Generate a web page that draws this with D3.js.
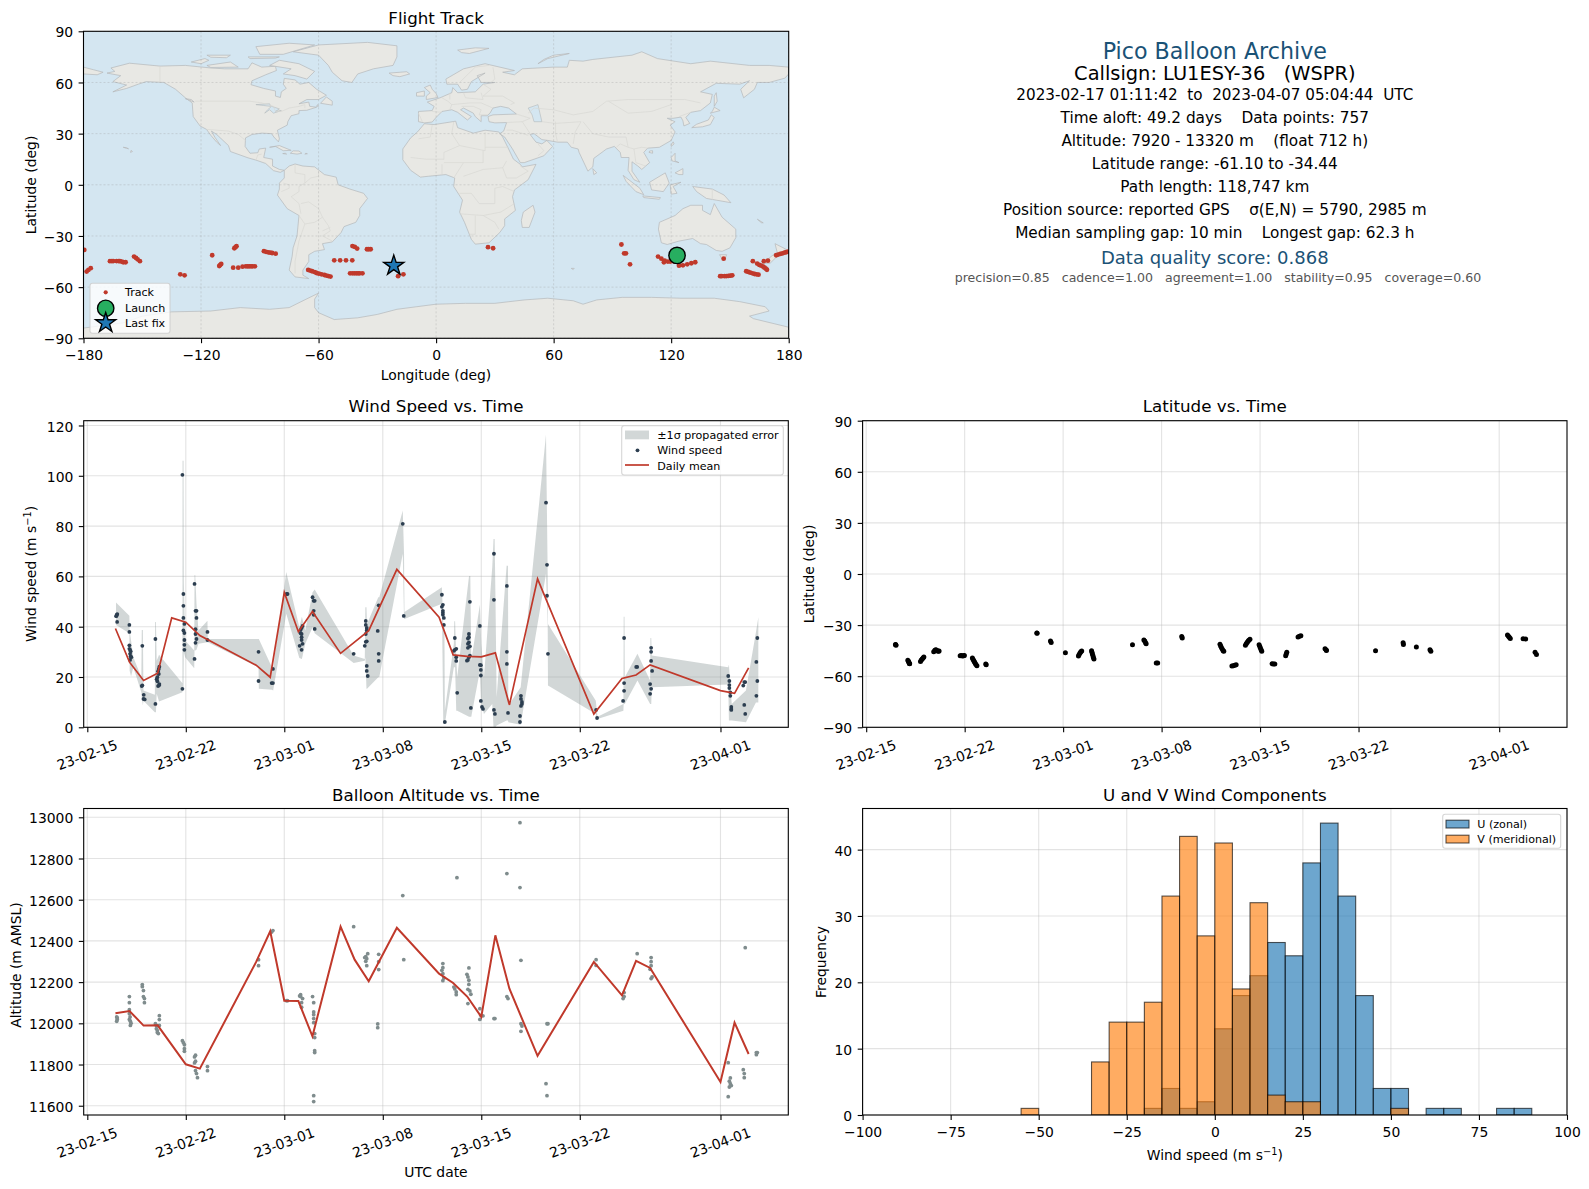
<!DOCTYPE html>
<html>
<head>
<meta charset="utf-8">
<script src="https://cdnjs.cloudflare.com/ajax/libs/d3/7.8.5/d3.min.js"></script>
<style>
  body { margin: 0; background: #fff; }
  text { font-family: "DejaVu Sans", sans-serif; fill: #000; white-space: pre; }
</style>
</head>
<body>
<div id="chart"></div>
<script>
// ---- values ----
const lonTicks = [-180, -120, -60, 0, 60, 120, 180];
const latTicks = [-90, -60, -30, 0, 30, 60, 90];
const dateTicks = ["2023-02-15", "2023-02-22", "2023-03-01", "2023-03-08", "2023-03-15", "2023-03-22", "2023-04-01"];
const windTicks = [0, 20, 40, 60, 80, 100, 120];
const altTicks = [11600, 11800, 12000, 12200, 12400, 12600, 12800, 13000];
const histXTicks = [-100, -75, -50, -25, 0, 25, 50, 75, 100];
const histYTicks = [0, 10, 20, 30, 40];

// coastlines, lon/lat, hand traced
const northAmerica = [[-168,65.5],[-164,66.5],[-166,68.5],[-156.5,71.3],[-141,69.6],[-128,70],[-115,68.5],[-108,68],[-96,68],[-94,71.5],[-89,69],[-82,69.5],[-81.5,67],[-87,64.5],[-94,61],[-94.5,58.7],[-88,56.5],[-82,55],[-82,52],[-79.5,51.2],[-79,54.5],[-76.5,56.5],[-78,59],[-77.5,62.4],[-72,61.5],[-69.5,59],[-65,60],[-61,56],[-56,52.5],[-60,50],[-66,50],[-70,47.5],[-65,48.5],[-64.5,46],[-61,45.5],[-66,43.7],[-70,43.5],[-70,41.7],[-74,40.5],[-75.7,37],[-76,35],[-81,32],[-80,27],[-80.5,25.2],[-82.8,28],[-84,30],[-89,30.3],[-94,29.5],[-97.3,27.5],[-97.5,22.5],[-95,18.5],[-91,18.8],[-90.3,21],[-87,21.5],[-88,16],[-83.5,15],[-83.5,11],[-80,9],[-77.5,8.5],[-79.5,7.3],[-83,8.3],[-87,12.5],[-92,14.5],[-96,15.8],[-105,19.5],[-106,23],[-112,29.5],[-114.7,31.5],[-113,28],[-110,23],[-112,25],[-115,29],[-117.2,32.5],[-120.5,34.5],[-124,40],[-124.5,48],[-128,51],[-133,56],[-139,60],[-148,60.5],[-152,59],[-158,56.5],[-165,54.5],[-158,58.5],[-165,60.5],[-161,64]];
const southAmerica = [[-77.5,8.5],[-75,11],[-72,12.2],[-68,11],[-62,10.5],[-57,6],[-51,4.5],[-50,0],[-44,-2.5],[-37,-5],[-35,-8],[-39,-14],[-39,-18],[-41,-22],[-47,-24.5],[-48.5,-28],[-53,-33.5],[-58,-34.5],[-57,-38],[-62,-39],[-65,-41],[-65,-45],[-68,-50],[-68,-53],[-65,-55],[-72,-54],[-75,-50],[-73.5,-42],[-73,-37],[-71,-30],[-70,-18],[-76,-14],[-81,-6],[-80,-2.5],[-80,1],[-77.5,4]];
const africa = [[-17,14.7],[-17,21],[-13,27.5],[-9.5,31],[-6,35.8],[-1,35.3],[10,37.3],[11,33.5],[19,30.3],[25,32],[32,31],[34,28],[37,21],[39.5,15],[43,12],[44,10.5],[51,12],[47,3],[40,-3],[39,-7],[40.5,-15],[35,-20],[35,-24],[32.5,-28],[27,-34],[20,-34.8],[18,-32],[14.5,-22],[12,-16],[13.5,-9],[9,-1],[9.5,4],[5,6],[-4,5],[-8,4.5],[-13,8.5]];
const eurasia = [[-9,37],[-9,43],[-2,43.5],[-1,46],[-4.5,48.5],[2,51],[8,54],[8.5,57],[11,54],[20,54.5],[24,59],[30,60],[23,60],[21,64],[25,65.5],[18,60.5],[16,56],[13,55.5],[11,59],[5.5,59],[5,62],[14,68],[25,71],[40,67],[34,66],[40,64.5],[44,68],[60,69],[67,69],[68,73],[75,72.5],[80,73.5],[100,76],[105,78],[113,74],[130,71],[140,72.5],[160,70],[170,70],[180,69],[180,65],[178,62.5],[170,60],[164,60],[162.5,56],[157,51],[155.5,56],[160,61],[155,59],[143,59.5],[135,54.5],[141,53],[140,48],[135,43.5],[130,42.5],[127.5,39.5],[129.5,36],[126.5,34.5],[126,37.5],[125,39.7],[121,39],[118,39],[122,37],[119.5,35],[122,31],[120,26],[114,22],[108,21.5],[106,19],[109,13],[105,9],[103,11],[100,13.5],[100,8],[104,1.5],[101,3],[98,8.5],[98.5,16],[94.5,16],[94,19],[91,22.5],[87,21],[80.5,15.5],[80,10.5],[77.5,8],[73,19],[72.5,21],[69,22],[67,25],[62,25],[57,26],[54,26.5],[50,30],[48,29.5],[51,25],[54,24],[56.5,26],[59.5,22.5],[55,17],[45,13],[43,13],[39,21],[35,28],[32.5,30],[34.5,31.5],[36,36.5],[30,36.3],[27,37],[26.5,40],[29,41],[41,41.5],[37,45],[33,46],[29,45],[27.5,42],[26,40.5],[23,40.5],[23,37],[20,40],[19,42],[14,45],[12.5,44],[18,40],[16,38],[11,42.5],[8,44],[3,43],[0,39.5],[-2,36.8],[-6,36.3]];
const chukotka = [[-180,69],[-175,67.5],[-170,66],[-173,64.5],[-180,65]];
const australia = [[114,-22],[122,-18],[126,-14],[130,-12],[136,-12],[136,-15],[140,-17.5],[142,-11],[146,-19],[153,-26],[153,-31],[150,-37],[146,-39],[143,-38.5],[138,-35],[135,-34.5],[131,-31.5],[124,-33],[118,-35],[115,-34],[113.5,-26]];
const antarctica = [[-180,-84],[-160,-81],[-150,-77],[-135,-74.5],[-115,-74],[-100,-72],[-85,-73],[-75,-72],[-68,-68],[-60,-63.5],[-62,-67],[-62,-72],[-60,-75],[-52,-79],[-40,-78],[-30,-76],[-20,-73],[0,-70],[15,-69.5],[30,-69.5],[45,-67.5],[57,-66.5],[70,-68],[75,-70],[82,-67.5],[95,-66],[110,-66],[125,-66.5],[142,-66.5],[155,-68.5],[168,-71.5],[170,-74],[160,-77],[162,-78.5],[180,-83.5],[180,-90],[-180,-90]];
const islands = [
  [[-73,78],[-60,82],[-35,83.5],[-20,81.5],[-20,75],[-22,70],[-32,68],[-40,65],[-43,60],[-48,61],[-53,66],[-55,70],[-60,76]],
  [[-80,73],[-70,71],[-62,66.5],[-66,62],[-72,64],[-78,65],[-74,68],[-85,70]],
  [[-117,70],[-105,72],[-101,69],[-115,68.8]],
  [[-90,76.5],[-78,76.5],[-62,82],[-75,83],[-92,81]],
  [[-125,72],[-118,74],[-116,73],[-120,71]],
  [[-96,75],[-80,75],[-82,74.3],[-95,74]],
  [[-117,76],[-105,76],[-107,74.5],[-115,74.8]],
  [[-59,47.8],[-53,46.7],[-53,49],[-56,51.5]],
  [[-85,22],[-80,23],[-74,20.2],[-78,20],[-82,22.5]],
  [[-74.4,18.5],[-71,18],[-68.5,18.5],[-70,19.8],[-73,19.9]],
  [[-78.3,18.3],[-76.3,18],[-77,18.5]],
  [[-67,18],[-65.7,18.2],[-66.5,18.5]],
  [[-156,19],[-155,19.5],[-155.7,20.2]],
  [[-159.7,22],[-158,21.4],[-157,21.1],[-158,21.7]],
  [[-128,50.5],[-123.5,48.5],[-125,50]],
  [[-5,50],[1,51.2],[0,53.5],[-2,56],[-3,58.5],[-6,57],[-3,54],[-5,52]],
  [[-10,52],[-6,52],[-6,55],[-10,54]],
  [[-24,65.5],[-15,66.3],[-13.5,65],[-18.5,63.4],[-22,64]],
  [[11,79],[20,80.3],[27,80],[17,77],[13,77.5]],
  [[52,71],[57,74],[68,77],[60,76],[55,73.5]],
  [[130.5,33.5],[136,34],[140,35.3],[142,39.5],[140.5,41],[139,38],[133,35.5]],
  [[140,42],[145,43.5],[142,45.5],[141,43]],
  [[142,46],[143.5,49],[143,54],[142,52]],
  [[120,22.5],[121.5,24],[121,25.2],[120,23.5]],
  [[108.7,19],[110.5,18.5],[110.5,20],[109,19.8]],
  [[120,16],[122,18.5],[122,14],[124,13],[120.5,14]],
  [[122,7],[126,9.5],[126,6],[124,6]],
  [[95.5,5.5],[104,-2],[106,-5.8],[102,-4],[97,2]],
  [[105.5,-6.5],[114.5,-7.5],[114,-8.5],[106,-7.5]],
  [[109,1.5],[117,7],[119,1],[116,-4],[110,-3]],
  [[119.5,0],[125,1.5],[121,-1],[123,-5],[120,-5.5]],
  [[131,-1],[141,-2.5],[147,-6],[150.5,-10.5],[143,-9],[138,-8],[133,-4]],
  [[144.7,-41],[148.3,-41],[147.5,-43.5],[146,-43.5]],
  [[173,-34.5],[178.5,-37.7],[175,-41.5],[174,-39]],
  [[172.5,-40.7],[174.3,-41.7],[170.5,-46],[166.5,-46],[170,-43]],
  [[80,9.5],[82,7],[80.5,6]],
  [[49.5,-12],[50.5,-16],[47.5,-25],[44,-25],[43.5,-21],[44.5,-16]],
  [[69,-49],[70.5,-49],[70,-49.7]],
  [[-61,-51.5],[-58,-51.5],[-59,-52.3]],
  [[164,-20.2],[167,-22.3],[166,-22.2]],
  [[-60.5,47],[-61,46],[-60,46]]
];
const lakes = [
  [[47,45],[52,47],[53,42],[54,37],[50,37],[49,41]],
  [[-92,47],[-85,47.5],[-84.5,46],[-88,46.5]],
  [[-87.5,42],[-86,44],[-84,46],[-80,44.5],[-82,43],[-79,43.5],[-83,42],[-85,44]]
];
const borders = [
  [[-141,69.6],[-141,60]],[[-123,49],[-95,49],[-89,48],[-83,46],[-82,43],[-79,43],[-75,45],[-70,46],[-67,47],[-67,45]],
  [[-117.2,32.5],[-106,31.5],[-101,29.5],[-97.3,26]],[[-92,14.5],[-91,17.5],[-89,18]],
  [[-72,12],[-72,7],[-67,6],[-67,1],[-70,-1],[-70,-4],[-74,-7],[-70,-11],[-69,-17]],[[-60,8],[-60,5],[-64,4],[-67,1]],
  [[-78,1],[-75,0],[-75,-2],[-79,-4]],[[-70,-18],[-67,-23],[-70,-33],[-72,-45],[-72,-52]],[[-69,-11],[-65,-10],[-60,-14],[-58,-19],[-55,-24],[-54,-27],[-58,-30],[-53,-33]],[[-67,-23],[-62,-22],[-58,-19]],[[-58,-27],[-54,-25]],
  [[-2,35],[-3,28],[-9,27]],[[9,37],[8,30],[12,23],[25,20],[25,31]],[[25,22],[37,22]],[[-13,16],[-5,15],[4,15],[4,19],[12,23]],[[14,13],[24,13],[24,20]],[[4,13],[14,13]],[[3,6],[3,12]],[[9,4],[14,13]],[[14,5],[24,9],[34,10],[36,14]],[[34,10],[36,4],[41,4],[47,8],[43,11]],[[12,-5],[18,-5],[22,-11],[30,-11],[30,-2],[34,-1],[40,-4]],[[12,-17],[24,-18],[33,-16],[40,-11]],[[20,-18],[20,-29],[17,-29]],[[24,-18],[30,-22],[32,-26]],
  [[-9,42],[-7,37]],[[-2,43],[3,42.5]],[[3,51],[6,49],[8,47],[7,44]],[[7,54],[7,50]],[[14,54],[15,51],[24,50],[23,54]],[[8,47],[17,48],[23,48],[29,45]],[[13,46],[19,46],[23,44],[22,41],[26,41]],[[24,59],[28,56],[24,52],[34,52],[40,48],[38,47]],[[29,69],[30,62],[28,60]],[[12,60],[20,69],[27,70]],
  [[41,41.5],[48,39],[44,37],[36,36.5]],[[44,37],[48,30]],[[36,32],[39,32],[47,29]],[[52,17],[55,20],[52,24]],[[61,37],[61,30],[62,25]],[[54,37],[61,36],[74,37],[71,31],[70,24]],[[47,42],[50,45],[60,44],[70,41],[80,43],[87,49],[98,50],[107,50],[120,50],[127,50],[135,48]],[[75,37],[80,30],[88,28],[97,28],[98,22],[101,21],[105,22],[108,21.5]],[[98,22],[94,24],[92,22]],[[88,49],[98,42],[110,43],[120,47]],[[101,21],[102,13],[107,11]],[[124,40],[130,42.5]],[[141,-2.5],[141,-9]]
];

const trackPoints = [[-179.6,-38.2],[-178.4,-50.9],[-177.5,-49.9],[-176.3,-48.9],[-166.5,-44.8],[-165.5,-44.7],[-164.8,-44.7],[-163.1,-44.7],[-162,-44.7],[-161.4,-44.8],[-160.5,-45],[-159.7,-45.4],[-158.5,-45.4],[-154.2,-42.1],[-153.2,-42.9],[-152.4,-43.7],[-151.2,-44.8],[-130.6,-52.5],[-128.4,-53.1],[-114.3,-41.3],[-110.7,-47.6],[-110.2,-47],[-109.7,-46.4],[-103.6,-48.6],[-101,-48.6],[-98.8,-48],[-97.1,-47.8],[-96.2,-47.8],[-95.4,-47.8],[-94.5,-47.8],[-93.7,-47.8],[-92.5,-47.8],[-103,-37.2],[-102.4,-36.6],[-101.9,-36],[-87.9,-38.9],[-86.8,-39.3],[-85.7,-39.6],[-84.7,-39.8],[-83.7,-40],[-81.9,-40.4],[-65.3,-49.9],[-64.3,-50.3],[-63.3,-50.7],[-62,-51.2],[-61,-51.7],[-59.8,-52.1],[-58.5,-52.5],[-57,-52.9],[-56,-53.2],[-55,-53.5],[-53.9,-53.8],[-52,-44.3],[-49,-44.3],[-46,-44.3],[-42.8,-44.3],[-43.9,-51.9],[-42.7,-51.9],[-41.7,-51.9],[-40.7,-51.9],[-39.8,-51.9],[-39,-51.9],[-37.6,-51.9],[-42.7,-35.9],[-41.5,-36.4],[-40.3,-37.4],[-35.3,-37.8],[-34.4,-37.8],[-33.4,-37.8],[-19.4,-53.6],[-16.7,-52.5],[26.5,-36.6],[29.1,-37.2],[94.6,-35],[96,-40.2],[96.9,-40.2],[99,-46.6],[113.3,-42.1],[115,-43.3],[116.7,-44.5],[116.3,-45.4],[118.3,-45],[119.5,-45],[121,-44.8],[122,-45],[124,-47.4],[126,-47.2],[128.2,-46.6],[130.3,-46],[132.3,-45.4],[146.8,-43.3],[145,-53.6],[145.8,-53.6],[147.3,-53.6],[148.3,-53.5],[149.3,-53.4],[150.3,-53.3],[151.2,-53.1],[158.3,-50.7],[159.4,-51.1],[160.4,-51.5],[161.5,-51.9],[162.6,-52.3],[163.6,-52.5],[164.6,-52.7],[161.7,-44.8],[163.9,-46.2],[165,-47],[166,-47.4],[167,-48],[167.7,-48.6],[168.3,-49.2],[168.9,-49.8],[167.3,-44.8],[169.4,-44.5],[173.6,-41.3],[174.6,-40.9],[175.7,-40.5],[176.8,-40.2],[177.9,-39.8],[178.8,-39.5],[179.6,-39.2]];
const launchPoint = [123, -41.4];
const lastFixPoint = [-21.6, -47.4];

// day offsets from 2023-02-15
const windPoints = [[2.08,44.4],[2.1,44.8],[2.13,45],[2.05,44.2],[2.12,41.9],[2.99,40.7],[2.99,37.9],[2.99,32.6],[2.99,31.2],[3.04,30.8],[3.08,30.2],[3.04,29.2],[3.08,28.2],[3.13,27.9],[3.04,26.8],[3.91,32.4],[3.91,16.7],[3.87,16.4],[4.01,12.9],[3.99,11.3],[4.08,11.1],[4.84,35.1],[4.84,9.3],[5.12,24.1],[5.08,23.2],[5.03,22.3],[4.98,19.9],[4.93,19.1],[5.08,21.2],[4.98,18.3],[5.12,17.2],[5.03,16.4],[5.1,16.7],[6.76,100.4],[6.76,15.3],[6.83,53],[6.83,48.3],[6.83,43.5],[6.9,41.1],[6.83,38.5],[6.9,37.5],[6.9,34.7],[6.9,32.8],[6.9,30.8],[7.62,57],[7.76,46.3],[7.69,46.3],[7.76,43.5],[7.69,39],[7.69,37.1],[7.76,35.1],[7.69,33.6],[7.62,27.2],[8.54,37.9],[8.54,34.7],[12.17,30],[12.17,18.4],[13.1,17.6],[13.19,17.6],[13.19,23.2],[14.16,53],[14.23,53],[16.01,51.7],[16.16,50.3],[16.09,50.3],[16.09,46.3],[16.09,44.7],[16.16,39.1],[15.3,40.3],[15.23,39.5],[15.16,38.7],[15.16,37.4],[15.23,37.1],[15.23,35.8],[15.23,34.7],[15.3,33.2],[15.09,32.4],[15.23,30.8],[18.93,29.2],[19.79,42.3],[19.79,40.7],[19.86,39.5],[19.86,38.5],[19.79,37.1],[19.86,34.2],[19.79,34],[19.72,32.4],[19.86,24.4],[19.86,22.4],[19.93,20.4],[20.71,48.5],[20.64,38.3],[20.71,29.2],[20.71,26.4],[22.42,80.9],[22.49,44.3],[25.2,52.7],[25.27,48.7],[25.2,47.9],[25.27,46.3],[25.27,45.5],[25.27,44.7],[25.34,43.5],[25.34,40.7],[25.41,2.1],[26.12,35.5],[26.22,31.2],[26.12,30.8],[26.05,30.4],[26.22,27.9],[26.22,26.4],[26.29,13.7],[27.12,37.1],[27.12,35.8],[27.05,35.3],[27.12,33.8],[27.05,33.2],[27.19,32.2],[27.05,31.6],[27.19,28.5],[27.12,27.9],[27.05,26.8],[26.98,26.5],[27.19,49.9],[27.26,7.7],[27.9,40.3],[27.9,24.8],[27.97,24.7],[27.97,22.8],[27.97,20.6],[27.97,10.5],[28.05,8.1],[28.12,7.3],[28.9,69],[28.9,50.7],[28.9,6.9],[28.97,5.3],[29.82,56.2],[29.82,30],[29.82,25.2],[29.9,5.7],[30.82,12.5],[30.82,11.3],[30.89,10.1],[30.89,9.3],[30.82,8.5],[30.75,4.5],[30.75,2.1],[32.6,89.3],[32.67,64.6],[32.67,52.3],[32.74,29.2],[36.16,6.9],[36.23,3.7],[38.15,35.5],[38.15,17.6],[38.15,14.5],[38.08,10.5],[39.08,24],[39.01,24],[40.07,31.6],[40.07,30],[40.07,26.4],[40.14,22.4],[40,17.2],[40.07,15.3],[40,13.3],[45.55,20.4],[45.63,18.4],[45.63,16.8],[45.63,15.6],[45.7,13.9],[45.7,12.5],[45.77,8.1],[45.77,7.3],[45.77,6.9],[46.62,16.6],[46.69,18],[46.76,18],[46.69,8.9],[46.76,5.3],[47.62,35.5],[47.55,26],[47.62,18.4],[47.55,12.5]];
// day, +1 sigma, -1 sigma
const bandRows = [[2.04,49.6,40.7],[2.99,44.4,37.4],[3.01,38.5,22.5],[3.11,34.5,20.2],[3.27,27.9,23.9],[3.84,19.9,13.9],[3.87,38.7,12],[3.95,38.7,8.8],[3.99,14.6,10.6],[4.8,12.9,6],[4.82,41.9,6],[4.88,41.9,6],[4.93,26.5,13.3],[5.1,28.8,10.3],[6.76,17.5,13.9],[6.77,106,15.9],[6.84,106,15.9],[6.86,58.4,29.8],[6.95,34.5,27.9],[7.6,30.5,23.5],[7.62,60.6,30.5],[7.67,60.6,30.5],[7.76,49.1,30.8],[7.9,38.5,33.2],[8.54,42.4,33.8],[8.56,35.1,33.8],[12.17,35.1,23.9],[12.19,35.1,15.3],[13.12,23.9,14.9],[13.21,23.9,14.6],[14.14,61.7,45.1],[15.07,39.8,27.6],[15.25,44,27.2],[15.49,38.5,33.2],[16.01,53.7,39.8],[16.16,54.8,37.4],[18.93,28.5,25.6],[19.72,27.2,26.5],[19.76,47.7,27.9],[19.84,47.7,15.3],[19.88,41.1,15.3],[20.68,51.7,19.9],[20.75,51.7,19.9],[22.42,86.2,69],[22.51,69,43.1],[22.54,45.8,43.1],[25.2,55.7,49.1],[25.3,41.1,1.3],[25.38,41.1,1.3],[25.41,6.6,1.3],[26.05,33.2,23.9],[26.08,42.2,23.9],[26.14,42.2,23.9],[26.22,27.9,6.6],[26.29,19.9,6.6],[27.13,60.2,4.2],[27.22,60.2,4.2],[27.29,26.5,4.2],[27.9,48.8,22.5],[28,33.2,9.3],[28.19,19.9,5.3],[28.78,63.7,9.3],[28.87,74.9,0],[28.95,74.9,0],[29.02,46.4,0],[29.09,11.9,0.7],[29.8,64.2,2.7],[29.9,64.2,2.7],[29.92,8.6,2],[30.8,15.9,1],[32.6,116.4,61],[32.72,61,41.1],[32.74,41.1,16.6],[36.14,10.6,5.3],[36.2,7.3,3.7],[36.26,4.2,3.3],[38.1,9.3,6.6],[38.12,44,9.3],[38.18,44,9.3],[38.2,19.9,9.3],[39.1,29.2,18.6],[40,18.6,9.3],[40.02,35.5,9.3],[40.08,35.5,9.3],[40.12,28.5,15.9],[45.55,23.9,17],[45.6,24.9,2.7],[45.8,9.3,2.7],[46.81,14.6,2],[47.52,37.8,9.9],[47.69,43.8,9.9]];
const meanDays = [2,3,4,5,6,7,8,12,13,14,15,16,18,20,22,25,26,27,28,29,30,32,36,38,39,40,45,46,47];
const windMean = [39.3,25.9,18.6,21.5,43.5,41.8,36.5,24.7,19.9,53.6,38,46,29.4,38.4,62.8,43.8,28.8,28.2,28,29.6,8.9,59,5.3,19.4,20.8,24.8,14.6,13.5,23.6];

const latPoints = [[2.08,-41.4],[2.1,-41.6],[2.12,-41.9],[2.96,-50.6],[3,-51.2],[3.03,-51.8],[3.07,-52.5],[3.09,-52.7],[3.86,-51.3],[3.92,-50.5],[3.98,-49.9],[4.04,-49.3],[4.1,-48.8],[4.8,-45.6],[4.88,-44.8],[4.95,-44.4],[5,-44.8],[5.07,-45.2],[5.14,-45.3],[5.18,-45.2],[6.68,-48],[6.76,-47.9],[6.84,-48.1],[6.92,-48],[6.98,-47.9],[7.55,-49.3],[7.6,-50.2],[7.65,-51],[7.7,-51.7],[7.75,-52.4],[7.8,-53.2],[7.87,-53.9],[8.5,-52.8],[8.53,-53.3],[12.13,-34.6],[12.15,-34.8],[13.1,-39.4],[13.15,-40.2],[14.16,-46.3],[15.09,-48.1],[15.14,-47.3],[15.2,-46.4],[15.26,-45.7],[15.32,-45.2],[16.02,-45],[16.05,-46],[16.08,-47],[16.12,-48],[16.15,-49],[16.19,-49.9],[18.93,-41.6],[19.74,-38.7],[19.8,-39.3],[19.86,-40.3],[19.9,-41],[20.62,-52.2],[20.72,-52.2],[22.43,-36.7],[22.47,-37.6],[25.15,-41.2],[25.2,-42.3],[25.25,-43.2],[25.32,-44.2],[25.38,-45],[25.42,-45.4],[26,-54],[26.1,-53.9],[26.2,-53.6],[26.3,-53.3],[26.96,-41.8],[27.02,-41],[27.08,-40.2],[27.14,-39.5],[27.2,-38.9],[27.28,-38.3],[27.93,-41.6],[27.98,-42.6],[28.03,-43.6],[28.08,-44.6],[28.12,-45.3],[28.85,-52.7],[28.95,-52.8],[29.05,-52.8],[29.82,-48],[29.86,-47],[29.9,-46],[30.7,-37],[30.8,-36.5],[30.9,-36.2],[32.62,-43.9],[32.7,-44.6],[32.72,-44.9],[36.21,-45.1],[38.17,-40.4],[38.19,-41.4],[39.11,-42.8],[40.08,-44.4],[40.14,-45.4],[45.59,-35.8],[45.66,-36.6],[45.72,-37.2],[45.79,-37.9],[46.7,-38],[46.88,-38.2],[47.55,-46],[47.65,-47.3]];

const altPoints = [[2.09,12031],[2.13,12026],[2.13,12019],[2.09,12010],[2.99,12130],[2.99,12100],[2.99,12066],[2.99,12047],[3.04,12031],[2.99,12019],[3.06,12010],[3.11,12000],[3.06,11990],[3.91,12188],[3.91,12178],[3.99,12159],[3.99,12130],[4.06,12120],[4.06,12100],[4.84,11998],[4.91,11990],[4.91,11974],[4.98,11964],[5.05,11950],[4.98,11955],[5.12,12037],[5.12,12018],[5.12,11990],[6.76,11916],[6.83,11906],[6.9,11896],[6.9,11877],[6.9,11864],[7.69,11845],[7.62,11837],[7.69,11816],[7.62,11808],[7.69,11770],[7.76,11756],[7.83,11736],[8.54,11790],[8.54,11770],[12.17,12309],[12.17,12280],[13.1,12443],[13.19,12450],[14.16,12110],[14.23,12110],[15.09,12133],[15.16,12139],[15.3,12120],[15.23,12100],[15.23,12078],[15.16,12130],[16.01,12130],[16.09,12100],[16.09,12055],[16.09,12042],[16.09,12023],[16.09,12003],[16.16,11950],[16.16,11931],[16.16,11867],[16.16,11858],[16.09,11649],[16.09,11620],[18.93,12469],[19.79,12324],[19.86,12314],[19.79,12301],[19.86,12280],[19.93,12338],[19.72,12319],[20.71,12335],[20.71,12299],[20.71,12261],[20.64,11997],[20.64,11979],[22.42,12620],[22.49,12309],[25.27,12290],[25.2,12257],[25.27,12270],[25.27,12241],[25.34,12220],[25.27,12207],[26.05,12176],[26.12,12167],[26.22,12152],[26.22,12139],[27.12,12269],[26.98,12238],[27.05,12225],[27.12,12209],[27.12,12189],[27.05,12165],[27.19,12157],[27.26,12141],[27.05,12096],[27.9,12071],[27.9,12019],[27.97,12039],[28.12,12036],[26.27,12707],[28.9,12023],[28.97,12023],[29.82,12727],[29.82,12130],[29.9,12120],[30.75,12974],[30.75,12659],[30.82,12306],[30.82,11998],[30.89,11987],[30.82,11961],[32.6,11707],[32.67,11649],[32.67,11998],[32.74,11998],[36.16,12309],[36.16,12281],[38.08,12120],[38.15,12149],[38.15,12130],[39.08,12338],[40.07,12319],[40.07,12299],[40.07,12280],[40,12262],[40.07,12217],[40.14,12225],[45.55,11809],[45.63,11719],[45.7,11735],[45.63,11691],[45.77,11698],[45.55,11644],[45.7,11707],[46.62,11775],[46.69,11756],[46.69,11736],[46.76,12367],[47.55,11848],[47.62,11858],[47.55,11858]];
const altMeanDays = [2,3,4,5,7,8,12,13,14,15,16,18,19,20,22,25,26,27,28,29,30,32,36,38,39,40,45,46,47];
const altMean = [12049,12060,11989,11990,11801,11780,12298,12447,12110,12108,11937,12469,12309,12204,12464,12241,12196,12130,12031,12427,12168,11842,12298,12136,12303,12269,11715,12003,11851];

// 5 m/s bins, left edge and count
const uBins = [-20,-15,-10,-5,0,5,10,15,20,25,30,35,40,45,50,60,65,80,85];
const uCounts = [1,4,1,2,13,18,21,26,24,38,44,33,18,4,4,1,1,1,1];
const vBins = [-55,-35,-30,-25,-20,-15,-10,-5,0,5,10,15,20,25,50];
const vCounts = [1,8,14,14,17,33,42,27,41,19,32,3,2,2,1];
const binWidth = 5;

const infoLines = [
  ["Pico Balloon Archive", 51, 22.2, "#1a5276", 1214.8],
  ["Callsign: LU1ESY-36   (WSPR)", 73.8, 19.4, "#000", 1214.8],
  ["2023-02-17 01:11:42  to  2023-04-07 05:04:44  UTC", 95, 15.2, "#000", 1214.8],
  ["Time aloft: 49.2 days    Data points: 757", 118, 15.3, "#000", 1214.8],
  ["Altitude: 7920 - 13320 m    (float 712 h)", 141, 15.3, "#000", 1214.8],
  ["Latitude range: -61.10 to -34.44", 164, 15.3, "#000", 1214.8],
  ["Path length: 118,747 km", 187, 15.3, "#000", 1214.8],
  ["Position source: reported GPS    σ(E,N) = 5790, 2985 m", 210, 15.3, "#000", 1214.8],
  ["Median sampling gap: 10 min    Longest gap: 62.3 h", 233, 15.3, "#000", 1214.8],
  ["Data quality score: 0.868", 257.5, 18, "#1a5276", 1214.8],
  ["precision=0.85   cadence=1.00   agreement=1.00   stability=0.95   coverage=0.60", 277.5, 12.55, "#555", 1218]
];

// ---- layout and colours ----
const RED = "#c0392b", NAVY = "#2c3e50", GREY = "#7f8c8d", OCEAN = "#d4e6f1", LAND = "#e8e8e4";
const TICK_FONT = 13.9, TITLE_FONT = 16.7, LABEL_FONT = 13.9;
const GRID = "#b8b8b8";

const svg = d3.select("#chart").append("svg").attr("width", 1589).attr("height", 1189);
const defs = svg.append("defs");

const dayToDate = d => new Date(Date.UTC(2023, 1, 15) + d * 864e5);
const fmtDate = d3.utcFormat("%y-%m-%d");
const parseDate = d3.utcParse("%Y-%m-%d");
const dayRange = [-0.256, 49.82];
const fmtNum = d => String(d).replace("-", "\u2212");

function panel({ box, id, x, y, xTicks, yTicks, xFmt, title, titleY, rotated }) {
  const g = svg.append("g");
  defs.append("clipPath").attr("id", id).append("rect")
    .attr("x", box.l).attr("y", box.t).attr("width", box.r - box.l).attr("height", box.b - box.t);
  const grid = g.append("g");
  const plot = g.append("g").attr("clip-path", `url(#${id})`);

  const xAxis = g.append("g").attr("transform", `translate(0,${box.b})`)
    .call(d3.axisBottom(x).tickValues(xTicks).tickFormat(xFmt || fmtNum).tickSize(4.9).tickPadding(7.1));
  const yAxis = g.append("g").attr("transform", `translate(${box.l},0)`)
    .call(d3.axisLeft(y).tickValues(yTicks).tickFormat(fmtNum).tickSize(4.9).tickPadding(5.5));
  [xAxis, yAxis].forEach(a => {
    a.select(".domain").remove();
    a.selectAll("line").attr("stroke", "#000").attr("stroke-width", 1.1);
    a.selectAll("text").style("font-size", TICK_FONT + "px").attr("fill", "#000");
  });
  yAxis.selectAll("text").attr("dy", "0.4em");
  if (rotated) {
    xAxis.selectAll("text")
      .attr("text-anchor", "middle").attr("dy", null).attr("y", 0)
      .attr("dominant-baseline", "central")
      .attr("transform", "translate(-0.6,27.5) rotate(-20)");
  }

  svg.append("text").attr("x", (box.l + box.r) / 2).attr("y", titleY)
    .attr("text-anchor", "middle").attr("dominant-baseline", "central")
    .style("font-size", TITLE_FONT + "px").text(title);

  return { g, grid, plot, xAxis, yAxis,
    frame() {
      g.append("rect").attr("x", box.l).attr("y", box.t)
        .attr("width", box.r - box.l).attr("height", box.b - box.t)
        .attr("fill", "none").attr("stroke", "#000").attr("stroke-width", 1.1);
    },
    gridlines(xVals, yVals) {
      grid.selectAll(".gx").data(xVals).enter().append("line")
        .attr("x1", d => x(d)).attr("x2", d => x(d)).attr("y1", box.t).attr("y2", box.b);
      grid.selectAll(".gy").data(yVals).enter().append("line")
        .attr("y1", d => y(d)).attr("y2", d => y(d)).attr("x1", box.l).attr("x2", box.r);
      grid.selectAll("line").attr("stroke", GRID).attr("stroke-opacity", 0.4).attr("stroke-width", 1.1);
    }
  };
}

function axisLabel(text, x, y, rot) {
  const t = svg.append("text").attr("text-anchor", "middle").attr("dominant-baseline", "central")
    .style("font-size", LABEL_FONT + "px")
    .attr("transform", `translate(${x},${y})` + (rot ? " rotate(-90)" : ""));
  t.text(text);
  return t;
}

// "m s-1" with a real superscript
function windLabel(x, y, rot) {
  const t = axisLabel("Wind speed (m s", x, y, rot);
  t.append("tspan").text("\u22121").attr("dy", "-0.4em").style("font-size", "9.8px");
  t.append("tspan").text(")").attr("dy", "0.29em");
}

function legendBox(x, y, w, h) {
  svg.append("rect").attr("x", x).attr("y", y).attr("width", w).attr("height", h).attr("rx", 2.5)
    .attr("fill", "#fff").attr("fill-opacity", 0.8).attr("stroke", "#ccc").attr("stroke-opacity", 0.8).attr("stroke-width", 1.1);
}
function legendText(text, x, y, size) {
  svg.append("text").attr("x", x).attr("y", y).attr("dominant-baseline", "central")
    .style("font-size", size + "px").text(text);
}

// ---- map ----
{
  const box = { l: 83.5, r: 788.7, t: 31.3, b: 338.3 };
  const x = d3.scaleLinear().domain([-180, 180]).range([box.l, box.r]);
  const y = d3.scaleLinear().domain([-90, 90]).range([box.b, box.t]);
  const p = panel({ box, id: "clip-map", x, y, xTicks: lonTicks, yTicks: latTicks, title: "Flight Track", titleY: 18 });
  axisLabel("Longitude (deg)", 436, 375);
  axisLabel("Latitude (deg)", 30.5, 185, true);

  const line = d3.line().x(d => x(d[0])).y(d => y(d[1]));
  p.plot.append("rect").attr("x", box.l).attr("y", box.t).attr("width", box.r - box.l).attr("height", box.b - box.t).attr("fill", OCEAN);
  const land = [northAmerica, southAmerica, africa, eurasia, chukotka, australia, antarctica, ...islands];
  p.plot.selectAll(".land").data(land).enter().append("path")
    .attr("d", d => line(d) + "Z").attr("fill", LAND).attr("stroke", "#b4b8ba").attr("stroke-width", 0.7);
  p.plot.selectAll(".lake").data(lakes).enter().append("path")
    .attr("d", d => line(d) + "Z").attr("fill", OCEAN).attr("stroke", "#b4b8ba").attr("stroke-width", 0.6);
  p.plot.selectAll(".border").data(borders).enter().append("path")
    .attr("d", line).attr("fill", "none").attr("stroke", "#d8d8d4").attr("stroke-width", 0.7);

  // grid sits above the land here, dotted
  p.plot.selectAll(".gx").data(lonTicks).enter().append("line")
    .attr("x1", d => x(d)).attr("x2", d => x(d)).attr("y1", box.t).attr("y2", box.b)
    .attr("stroke", "#999").attr("stroke-opacity", 0.45).attr("stroke-width", 0.7).attr("stroke-dasharray", "2,2");
  p.plot.selectAll(".gy").data(latTicks).enter().append("line")
    .attr("y1", d => y(d)).attr("y2", d => y(d)).attr("x1", box.l).attr("x2", box.r)
    .attr("stroke", "#999").attr("stroke-opacity", 0.45).attr("stroke-width", 0.7).attr("stroke-dasharray", "2,2");

  p.plot.selectAll(".trk").data(trackPoints).enter().append("circle")
    .attr("cx", d => x(d[0])).attr("cy", d => y(d[1])).attr("r", 2.4).attr("fill", RED);
  p.plot.append("circle").attr("cx", x(launchPoint[0])).attr("cy", y(launchPoint[1])).attr("r", 8.2)
    .attr("fill", "#27ae60").attr("stroke", "#000").attr("stroke-width", 1.4);
  p.plot.append("path").attr("d", d3.symbol(d3.symbolStar, 125)())
    .attr("transform", `translate(${x(lastFixPoint[0])},${y(lastFixPoint[1])})`)
    .attr("fill", "#1f77b4").attr("stroke", "#000").attr("stroke-width", 1.4);
  p.frame();

  legendBox(90, 283.3, 80, 50);
  svg.append("circle").attr("cx", 105.7).attr("cy", 292.3).attr("r", 2.1).attr("fill", RED);
  svg.append("circle").attr("cx", 105.7).attr("cy", 308.3).attr("r", 8.2).attr("fill", "#27ae60").attr("stroke", "#000").attr("stroke-width", 1.4);
  svg.append("path").attr("d", d3.symbol(d3.symbolStar, 125)()).attr("transform", "translate(105.7,323)")
    .attr("fill", "#1f77b4").attr("stroke", "#000").attr("stroke-width", 1.4);
  legendText("Track", 125, 292.3, 11.1);
  legendText("Launch", 125, 308.3, 11.1);
  legendText("Last fix", 125, 323, 11.1);
}

// ---- info block ----
svg.selectAll(".info").data(infoLines).enter().append("text")
  .attr("x", d => d[4]).attr("y", d => d[1]).attr("text-anchor", "middle").attr("dominant-baseline", "central")
  .style("font-size", d => d[2] + "px").style("fill", d => d[3]).text(d => d[0]);

// ---- time panels ----
const tickDates = dateTicks.map(parseDate);

{
  const box = { l: 83.7, r: 788.3, t: 420.7, b: 727.3 };
  const x = d3.scaleUtc().domain(dayRange.map(dayToDate)).range([box.l, box.r]);
  const y = d3.scaleLinear().domain([0, 121.9]).range([box.b, box.t]);
  const p = panel({ box, id: "clip-wind", x, y, xTicks: tickDates, yTicks: windTicks, xFmt: fmtDate, title: "Wind Speed vs. Time", titleY: 405.7, rotated: true });
  p.gridlines(tickDates, windTicks);
  windLabel(30.5, 574, true);

  const band = d3.area().x(d => x(dayToDate(d[0]))).y0(d => y(d[2])).y1(d => y(d[1]));
  p.plot.append("path").attr("d", band(bandRows)).attr("fill", GREY).attr("fill-opacity", 0.35);
  p.plot.selectAll(".dot").data(windPoints).enter().append("circle")
    .attr("cx", d => x(dayToDate(d[0]))).attr("cy", d => y(d[1])).attr("r", 1.9).attr("fill", NAVY);
  const meanLine = d3.line().x(d => x(dayToDate(d))).y((d, i) => y(windMean[i]));
  p.plot.append("path").attr("d", meanLine(meanDays)).attr("fill", "none").attr("stroke", RED).attr("stroke-width", 1.7);
  p.frame();

  legendBox(621.7, 425.7, 161.6, 49.3);
  svg.append("rect").attr("x", 625).attr("y", 430.5).attr("width", 24).attr("height", 8.8).attr("fill", GREY).attr("fill-opacity", 0.35);
  svg.append("circle").attr("cx", 637.5).attr("cy", 450.3).attr("r", 1.9).attr("fill", NAVY);
  svg.append("line").attr("x1", 625).attr("x2", 649).attr("y1", 465).attr("y2", 465).attr("stroke", RED).attr("stroke-width", 1.7);
  legendText("\u00B11\u03C3 propagated error", 657.3, 435.3, 11.1);
  legendText("Wind speed", 657.3, 450.3, 11.1);
  legendText("Daily mean", 657.3, 466, 11.1);
}

{
  const box = { l: 862.6, r: 1567, t: 420.7, b: 727.3 };
  const x = d3.scaleUtc().domain(dayRange.map(dayToDate)).range([box.l, box.r]);
  const y = d3.scaleLinear().domain([-90, 90]).range([box.b, box.t]);
  const p = panel({ box, id: "clip-lat", x, y, xTicks: tickDates, yTicks: latTicks, xFmt: fmtDate, title: "Latitude vs. Time", titleY: 405.7, rotated: true });
  p.gridlines(tickDates, latTicks);
  axisLabel("Latitude (deg)", 808.5, 574, true);
  p.plot.selectAll(".dot").data(latPoints).enter().append("circle")
    .attr("cx", d => x(dayToDate(d[0]))).attr("cy", d => y(d[1])).attr("r", 2.5).attr("fill", "#000");
  p.frame();
}

{
  const box = { l: 83.7, r: 788.3, t: 808.5, b: 1115 };
  const x = d3.scaleUtc().domain(dayRange.map(dayToDate)).range([box.l, box.r]);
  const y = d3.scaleLinear().domain([11555, 13042.7]).range([box.b, box.t]);
  const p = panel({ box, id: "clip-alt", x, y, xTicks: tickDates, yTicks: altTicks, xFmt: fmtDate, title: "Balloon Altitude vs. Time", titleY: 794.6, rotated: true });
  p.gridlines(tickDates, altTicks);
  axisLabel("Altitude (m AMSL)", 15.5, 965, true);
  axisLabel("UTC date", 436, 1171.5);
  p.plot.selectAll(".dot").data(altPoints).enter().append("circle")
    .attr("cx", d => x(dayToDate(d[0]))).attr("cy", d => y(d[1])).attr("r", 1.9).attr("fill", GREY);
  const meanLine = d3.line().x(d => x(dayToDate(d))).y((d, i) => y(altMean[i]));
  p.plot.append("path").attr("d", meanLine(altMeanDays)).attr("fill", "none").attr("stroke", RED).attr("stroke-width", 2);
  p.frame();
}

// ---- histogram ----
{
  const box = { l: 862.6, r: 1567, t: 808.5, b: 1115 };
  const x = d3.scaleLinear().domain([-100, 100]).range([box.l, box.r]);
  const y = d3.scaleLinear().domain([0, 46.2]).range([box.b, box.t]);
  const p = panel({ box, id: "clip-hist", x, y, xTicks: histXTicks, yTicks: histYTicks, title: "U and V Wind Components", titleY: 794.6 });
  p.gridlines(histXTicks, histYTicks);
  axisLabel("Frequency", 821, 962, true);
  windLabel(1214.8, 1155, false);

  const bars = (bins, counts, color) => p.plot.append("g").selectAll("rect").data(bins).enter().append("rect")
    .attr("x", d => x(d)).attr("width", d => x(d + binWidth) - x(d))
    .attr("y", (d, i) => y(counts[i])).attr("height", (d, i) => y(0) - y(counts[i]))
    .attr("fill", color).attr("fill-opacity", 0.65).attr("stroke", "#000").attr("stroke-opacity", 0.65).attr("stroke-width", 1.1);
  bars(uBins, uCounts, "#1f77b4");
  bars(vBins, vCounts, "#ff7f0e");
  p.frame();

  legendBox(1442.7, 814.3, 118, 34);
  [["U (zonal)", "#1f77b4", 824], ["V (meridional)", "#ff7f0e", 839]].forEach(([label, color, yy]) => {
    svg.append("rect").attr("x", 1446).attr("y", yy - 3.8).attr("width", 23).attr("height", 7.8)
      .attr("fill", color).attr("fill-opacity", 0.65).attr("stroke", "#000").attr("stroke-opacity", 0.65).attr("stroke-width", 1.1);
    legendText(label, 1477.3, yy, 11.1);
  });
}
</script>
</body>
</html>
